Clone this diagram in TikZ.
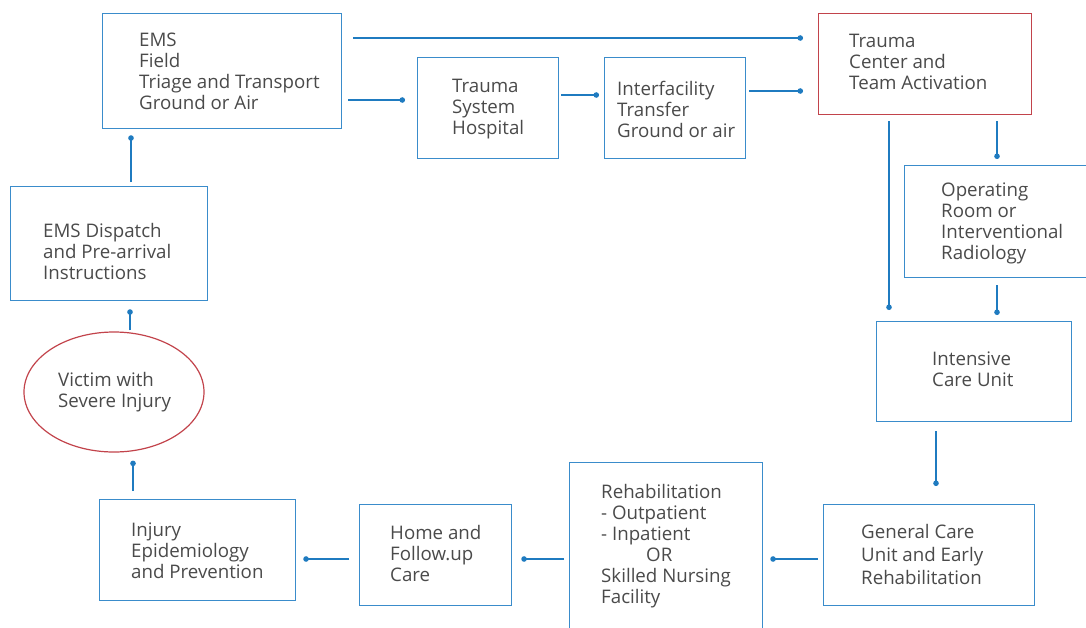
\documentclass[tikz,border=0pt]{standalone}
\usepackage{fontspec}
\setmainfont{Open Sans}
\usetikzlibrary{arrows.meta,shapes.geometric,calc}
\definecolor{bxblue}{HTML}{3A8CCB}
\definecolor{lnblue}{HTML}{1F7BC0}
\definecolor{bxred}{HTML}{C2434B}
\definecolor{txtgray}{HTML}{4A4A4A}
\begin{document}
\begin{tikzpicture}[x=1pt,y=-1pt,
  box/.style={draw=bxblue,line width=1.3pt,rectangle,inner sep=0pt,anchor=north west},
  redbox/.style={box,draw=bxred},
  txt/.style={anchor=west,align=left,inner sep=0pt,text=txtgray,font=\fontsize{18.7}{21}\selectfont},
  conn/.style={draw=lnblue,line width=1.4pt,-{Circle[length=5.5pt,color=lnblue]}}]
\useasboundingbox (0,0) rectangle (1086,627);
% boxes
\node[box,minimum width=239pt,minimum height=115pt] (ems) at (102,13) {};
\node[box,minimum width=141pt,minimum height=101pt] (tsh) at (417,57) {};
\node[box,minimum width=141pt,minimum height=101pt] (ift) at (604,57) {};
\node[redbox,minimum width=213pt,minimum height=101pt] (tc) at (818,13) {};
\node[box,minimum width=186pt,minimum height=112pt] (orr) at (904,165) {};
\node[box,minimum width=195pt,minimum height=100pt] (icu) at (876,321) {};
\node[box,minimum width=211pt,minimum height=101pt] (gc) at (823,504) {};
\node[box,minimum width=193pt,minimum height=180pt] (reh) at (569,462) {};
\node[box,minimum width=152pt,minimum height=101pt] (home) at (359,504) {};
\node[box,minimum width=196pt,minimum height=101pt] (inj) at (99,499) {};
\node[draw=bxred,line width=1.2pt,ellipse,minimum width=180pt,minimum height=120pt,inner sep=0pt] (vic) at (114,392) {};
\node[box,minimum width=197pt,minimum height=114pt] (dis) at (10,186) {};
% texts
\node[txt] (emsT) at (139,71) {EMS\\Field\\Triage and Transport\\Ground or Air};
\node[txt] (tshT) at (452,109.5) {Trauma\\System\\Hospital};
\node[txt] (iftT) at (617,109) {Interfacility\\Transfer\\Ground or air};
\node[txt] (tcT) at (849,62) {Trauma\\Center and\\Team Activation};
\node[txt] (orrT) at (941,223) {Operating\\Room or\\Interventional\\Radiology};
\node[txt] (icuT) at (932,369) {Intensive\\Care Unit};
\node[txt,font=\fontsize{18.7}{23}\selectfont] (gcT) at (861,554.5) {General Care\\Unit and Early\\Rehabilitation};
\node[txt] (rehT) at (601,546) {Rehabilitation\\- Outpatient\\- Inpatient\\\hspace*{45pt}OR\\Skilled Nursing\\Facility};
\node[txt] (homeT) at (390,553) {Home and\\Follow.up\\Care};
\node[txt] (injT) at (131,551) {Injury\\Epidemiology\\and Prevention};
\node[txt] (vicT) at (58,392) {Victim with\\Severe Injury};
\node[txt] (disT) at (43,251) {EMS Dispatch\\and Pre-arrival\\Instructions};
% connectors
\draw[conn] ($(ems.north east)+(11,25)$) -- ($(tc.north west)+(-15,25)$);
\draw[conn] ($(ems.north east)+(6,87)$) -- ($(tsh.north west)+(-12,43)$);
\draw[conn] ($(tsh.north east)+(2,38)$) -- ($(ift.north west)+(-5,38)$);
\draw[conn] ($(ift.north east)+(3,34)$) -- ($(tc.north west)+(-15,78)$);
\draw[conn] ($(tc.south west)+(179,6)$) -- ($(orr.north west)+(93,-6)$);
\draw[conn] ($(tc.south west)+(71,6)$) -- ($(icu.north west)+(13,-11)$);
\draw[conn] ($(orr.south west)+(93,7)$) -- ($(icu.north west)+(121,-6)$);
\draw[conn] ($(icu.south west)+(60,9)$) -- ($(gc.north west)+(113,-18)$);
\draw[conn] ($(gc.north west)+(-5,55)$) -- ($(reh.north east)+(7,97)$);
\draw[conn] ($(reh.north west)+(-5,97)$) -- ($(home.north east)+(9,55)$);
\draw[conn] ($(home.north west)+(-10,55)$) -- ($(inj.north east)+(7,60)$);
\draw[conn] ($(inj.north west)+(34,-8)$) -- ($(vic.south)+(19,8)$);
\draw[conn] ($(vic.north)+(16,-1)$) -- ($(dis.south west)+(120,8)$);
\draw[conn] ($(dis.north west)+(121,-4)$) -- ($(ems.south west)+(29,6)$);
\end{tikzpicture}
\end{document}
